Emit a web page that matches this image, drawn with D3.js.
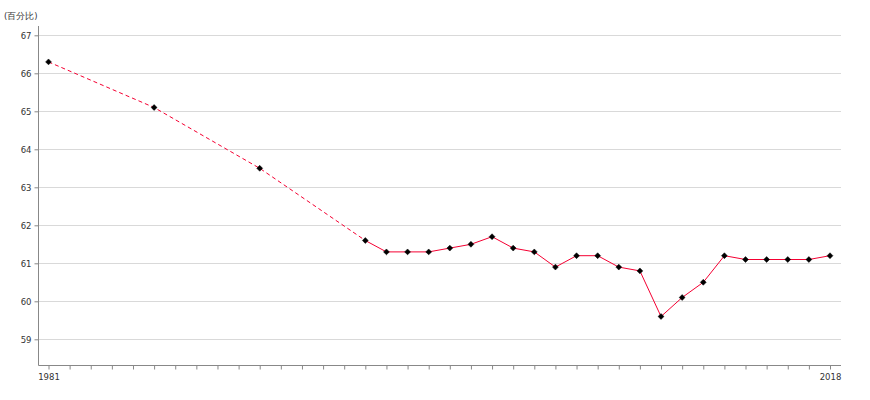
<!DOCTYPE html>
<html><head><meta charset="utf-8">
<script src="https://cdn.jsdelivr.net/npm/d3@7"></script>
<style>body{margin:0;background:#fff}text{font-family:"DejaVu Sans",sans-serif}</style>
</head><body><svg id="c" width="870" height="400"></svg>
<script>
const years = [1981,1986,1991,1996,1997,1998,1999,2000,2001,2002,2003,2004,2005,2006,2007,2008,2009,2010,2011,2012,2013,2014,2015,2016,2017,2018];
const values = [66.3,65.1,63.5,61.6,61.3,61.3,61.3,61.4,61.5,61.7,61.4,61.3,60.9,61.2,61.2,60.9,60.8,59.6,60.1,60.5,61.2,61.1,61.1,61.1,61.1,61.2];
const yTicks = [59,60,61,62,63,64,65,66,67];
const xLabels = [1981,2018];
const unitLabel = "(百分比)";
const dashedUntil = 1996;

(function(){
const svg = d3.select("#c");
const mLeft = 38.5, mRight = 841, mBottom = 365.5, mTop = 26;
const x = d3.scaleLinear().domain([1981,2018]).range([48.5,830]);
const y = d3.scaleLinear().domain([59,67]).range([339.3,35.3]);

// gridlines
svg.append("g").selectAll("line").data(yTicks).join("line")
  .attr("x1",mLeft).attr("x2",mRight)
  .attr("y1",d=>Math.round(y(d))+0.5).attr("y2",d=>Math.round(y(d))+0.5)
  .attr("stroke","#d9d9d9").attr("stroke-width",1);

// y axis
const yAx = svg.append("g").attr("transform",`translate(${mLeft},0)`)
  .call(d3.axisLeft(y).tickValues(yTicks).tickSize(4).tickPadding(3).tickFormat(d3.format("d")));
yAx.select(".domain").remove();
yAx.selectAll(".tick line").attr("stroke","#888");
yAx.selectAll("text").attr("font-size",8.5).attr("fill","#333");
svg.append("line").attr("x1",mLeft).attr("x2",mLeft).attr("y1",mTop).attr("y2",mBottom)
  .attr("stroke","#888");

// x axis
const xAx = svg.append("g").attr("transform",`translate(0,${mBottom})`)
  .call(d3.axisBottom(x).tickValues(d3.range(1981,2019)).tickSize(4).tickPadding(4)
    .tickFormat(d=>xLabels.includes(d)?String(d):""));
xAx.select(".domain").remove();
xAx.selectAll(".tick line").attr("stroke","#888");
xAx.selectAll("text").attr("font-size",8.5).attr("fill","#333");
svg.append("line").attr("x1",mLeft).attr("x2",mRight).attr("y1",mBottom).attr("y2",mBottom)
  .attr("stroke","#888");

// unit label
svg.append("text").attr("x",4).attr("y",19).attr("font-size",8.5).attr("fill","#333").text(unitLabel);

const data = years.map((yr,i)=>({yr,v:values[i]}));
const line = d3.line().x(d=>x(d.yr)).y(d=>y(d.v));
svg.append("path").datum(data.filter(d=>d.yr<=dashedUntil)).attr("d",line)
  .attr("fill","none").attr("stroke","#f50032").attr("stroke-width",1).attr("stroke-dasharray","4,3");
svg.append("path").datum(data.filter(d=>d.yr>=dashedUntil)).attr("d",line)
  .attr("fill","none").attr("stroke","#f50032").attr("stroke-width",1);

svg.append("g").selectAll("path").data(data).join("path")
  .attr("transform",d=>`translate(${x(d.yr)},${y(d.v)})`)
  .attr("d",d3.symbol(d3.symbolDiamond2,22)())
  .attr("fill","#000").attr("stroke","#000").attr("stroke-width",0.5);
})();
</script></body></html>
